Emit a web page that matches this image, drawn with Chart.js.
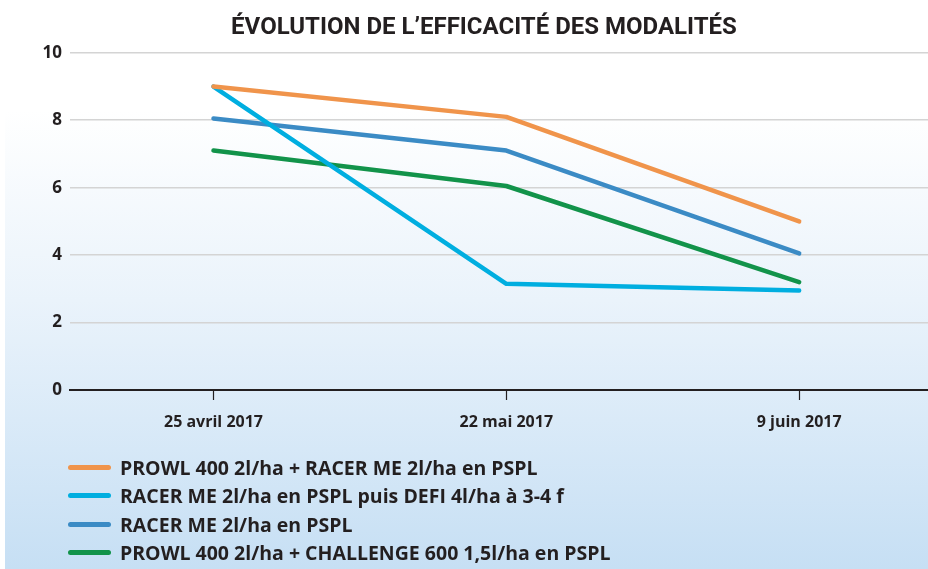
<!DOCTYPE html>
<html>
<head>
<meta charset="utf-8">
<script src="https://cdn.jsdelivr.net/npm/chart.js@4"></script>
<style>
  html, body {
    margin: 0;
    padding: 0;
    width: 928px;
    height: 569px;
    overflow: hidden;
  }
  body {
    position: relative;
    background:
      linear-gradient(to right, #fff 5px, rgba(255,255,255,0) 5px),
      linear-gradient(to bottom, #fff 0px, #fff 110px, #eaf3fb 300px, #c6dff4 569px);
    font-family: "Open Sans", sans-serif;
    color: #231f20;
  }
  #chart {
    position: absolute;
    left: 0;
    top: 0;
  }
  #legend {
    position: absolute;
    left: 68px;
    top: 453px;
  }
  .item {
    display: flex;
    align-items: center;
    height: 28.5px;
    font-weight: 700;
    font-size: 19.5px;
    white-space: nowrap;
  }
  .swatch {
    width: 43px;
    height: 5px;
    border-radius: 3px;
    margin-right: 9px;
  }
</style>
</head>
<body>
<canvas id="chart" width="928" height="569"></canvas>
<div id="legend"></div>
<script>
const dates = ['25 avril 2017', '22 mai 2017', '9 juin 2017'];
const seriesNames = [
  'PROWL 400 2l/ha + RACER ME 2l/ha en PSPL',
  'RACER ME 2l/ha en PSPL puis DEFI 4l/ha à 3-4 f',
  'RACER ME 2l/ha en PSPL',
  'PROWL 400 2l/ha + CHALLENGE 600 1,5l/ha en PSPL'
];
const prowlRacer = [9, 8.1, 5];
const racerDefi = [9, 3.15, 2.95];
const racer = [8.05, 7.1, 4.05];
const prowlChallenge = [7.1, 6.05, 3.2];
const yTicks = [0, 2, 4, 6, 8, 10];

const colors = ['#f0944b', '#00aee0', '#3b8bc5', '#12934a'];
const textColor = '#231f20';

const toPoints = vals => vals.map((v, i) => ({ x: i, y: v }));

const ctx = document.getElementById('chart').getContext('2d');
const chart = new Chart(ctx, {
  type: 'line',
  data: {
    datasets: [prowlRacer, racerDefi, racer, prowlChallenge].map((vals, i) => ({
      label: seriesNames[i],
      data: toPoints(vals),
      borderColor: colors[i],
      backgroundColor: colors[i],
      borderWidth: 4.5,
      borderCapStyle: 'round',
      borderJoinStyle: 'round',
      pointRadius: 0,
      tension: 0,
      fill: false
    }))
  },
  options: {
    responsive: false,
    animation: false,
    layout: { padding: { left: 40, right: 0, top: 0, bottom: 136 } },
    plugins: {
      legend: { display: false },
      tooltip: { enabled: false },
      title: {
        display: true,
        text: 'ÉVOLUTION DE L’EFFICACITÉ DES MODALITÉS',
        color: textColor,
        font: { family: 'Roboto', size: 24, weight: '700' },
        padding: { top: 14, bottom: 10 }
      }
    },
    scales: {
      x: {
        type: 'linear',
        min: -0.49,
        max: 2.44,
        afterBuildTicks: scale => {
          scale.ticks = dates.map((d, i) => ({ value: i }));
        },
        afterFit: scale => { scale.height = 43; },
        grid: {
          drawOnChartArea: false,
          drawTicks: true,
          tickLength: 10,
          tickColor: textColor,
          tickWidth: 1.2
        },
        border: { display: true, color: textColor, width: 2 },
        ticks: {
          padding: 13,
          color: textColor,
          font: { family: 'Open Sans', size: 16, weight: '700' },
          callback: v => dates[v]
        }
      },
      y: {
        min: 0,
        max: 10,
        afterBuildTicks: scale => {
          scale.ticks = yTicks.map(v => ({ value: v }));
        },
        afterFit: scale => { scale.width = 30; },
        grid: {
          drawTicks: false,
          lineWidth: 1.5,
          color: c => c.tick && c.tick.value === 0 ? 'rgba(0,0,0,0)' : '#d4d4d4'
        },
        border: { display: false },
        ticks: {
          padding: 8,
          color: textColor,
          font: { family: 'Open Sans', size: 17, weight: '700' }
        }
      }
    }
  }
});

const legend = document.getElementById('legend');
chart.data.datasets.forEach(ds => {
  const row = document.createElement('div');
  row.className = 'item';
  const sw = document.createElement('span');
  sw.className = 'swatch';
  sw.style.background = ds.borderColor;
  const label = document.createElement('span');
  label.textContent = ds.label;
  row.appendChild(sw);
  row.appendChild(label);
  legend.appendChild(row);
});
</script>
</body>
</html>
